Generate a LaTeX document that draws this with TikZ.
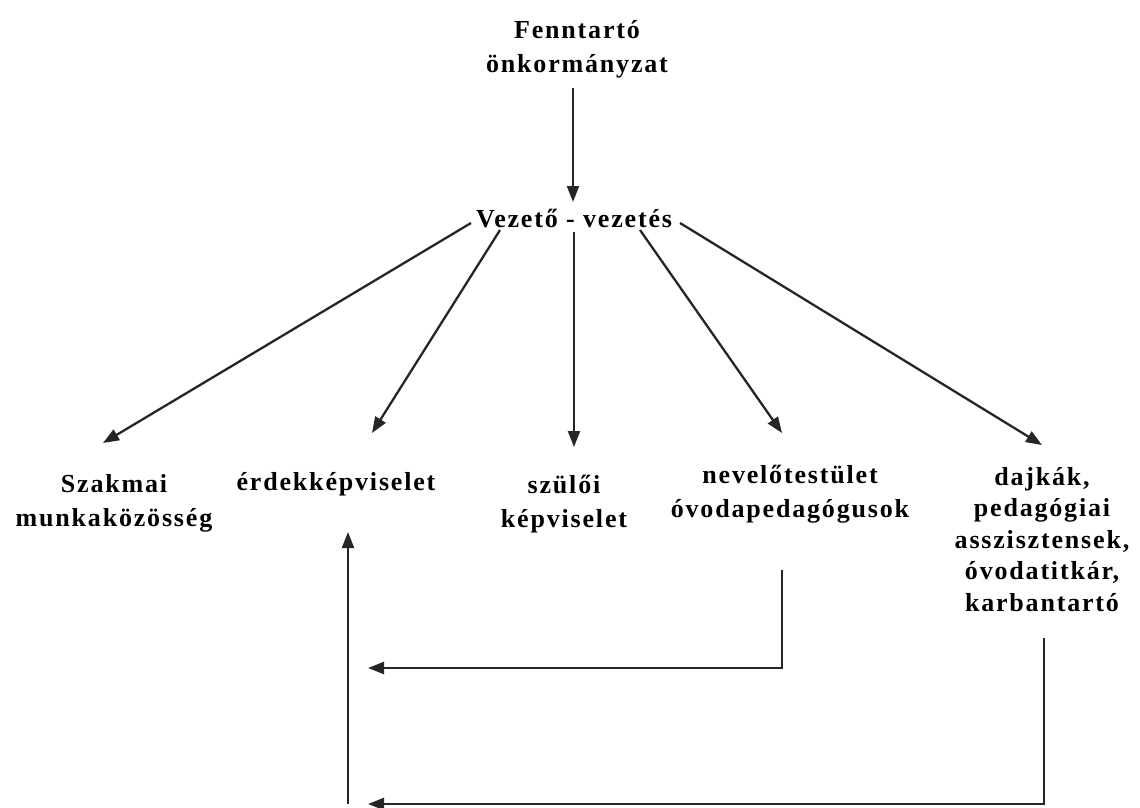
\documentclass[tikz,border=0pt]{standalone}
\usepackage{fontspec}
\setmainfont{Liberation Serif}[LetterSpace=7]
\usetikzlibrary{arrows.meta}
\tikzset{
  lbl/.style={anchor=base, align=center, inner sep=0pt, font={\bfseries\fontsize{26}{34}\selectfont}},
  lblt/.style={lbl, font={\bfseries\fontsize{26}{31.5}\selectfont}},
  arr/.style={draw=black!85, line width=2.3pt, -{Triangle[length=16pt,width=12pt]}},
}
\begin{document}
\begin{tikzpicture}[x=1pt,y=-1pt]
\useasboundingbox[fill=white] (0,0) rectangle (1140,807);
% nodes (base anchor = baseline of the last line)
\node[lbl] (fen) at (577,72) {Fenntartó\\önkormányzat};
\node[lbl] (vez) at (574,227) {Vezető - vezetés};
\node[lbl] (szak) at (114,526) {Szakmai\\munkaközösség};
\node[lbl] (erd) at (336,490) {érdekképviselet};
\node[lbl] (szul) at (564,527) {szülői\\képviselet};
\node[lbl] (nev) at (790,517) {nevelőtestület\\óvodapedagógusok};
\node[lblt] (daj) at (1042,611) {dajkák,\\pedagógiai\\asszisztensek,\\óvodatitkár,\\karbantartó};
% connector points
\coordinate (f0) at (573,88);
\coordinate (v0) at (573,202);
\coordinate (s1) at (471,223);
\coordinate (e1) at (103,443);
\coordinate (s2) at (500,230);
\coordinate (e2) at (372,433);
\coordinate (s3) at (574,232);
\coordinate (e3) at (574,447);
\coordinate (s4) at (640,230);
\coordinate (e4) at (782,433);
\coordinate (s5) at (680,223);
\coordinate (e5) at (1042,445);
\coordinate (n0) at (782,570);
\coordinate (n1) at (782,668);
\coordinate (n2) at (368,668);
\coordinate (d0) at (1044,638);
\coordinate (d1) at (1044,804);
\coordinate (d2) at (368,804);
\coordinate (u0) at (348,804);
\coordinate (u1) at (348,532);
% connectors
\draw[arr] (f0) -- (v0);
\draw[arr] (s1) -- (e1);
\draw[arr] (s2) -- (e2);
\draw[arr] (s3) -- (e3);
\draw[arr] (s4) -- (e4);
\draw[arr] (s5) -- (e5);
\draw[arr] (n0) -- (n1) -- (n2);
\draw[arr] (d0) -- (d1) -- (d2);
\draw[arr] (u0) -- (u1);
\end{tikzpicture}
\end{document}
